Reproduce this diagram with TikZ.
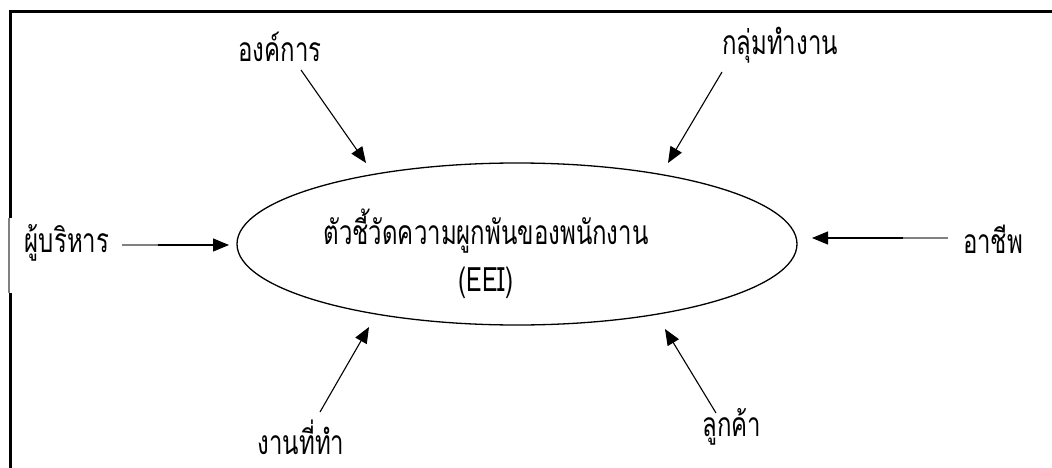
\documentclass[tikz,border=0pt]{standalone}
\usepackage{fontspec}
\usepackage{graphicx}
\newfontfamily\thai[Script=Thai]{Loma}
\usetikzlibrary{arrows.meta}
\newcommand{\tall}[1]{\scalebox{1}[1.4]{#1}}
\begin{document}
\begin{tikzpicture}[x=1pt,y=-1pt,
  lbl/.style={font=\thai\fontsize{24}{28}\selectfont, inner sep=0pt},
  conn/.style={line width=1.1pt, -{Triangle[length=16pt,width=13pt]}},
  greyseg/.style={line width=1.4pt, gray}]
\useasboundingbox (0,0) rectangle (1052,468);
\fill[white] (0,0) rectangle (1052,468);
% frame
\draw[line width=3pt] (10,470) -- (10,12) -- (1054,12);
\draw[white, line width=3.2pt] (10,218) -- (10,293);
\draw[gray, line width=1.6pt] (9,218) -- (9,293);
% central ellipse
\draw[line width=1.3pt] (517,244) ellipse [x radius=280, y radius=81];
\node[lbl] (c) at (486,256) {\tall{\begin{tabular}{@{}c@{}}ตัวชี้วัดความผูกพันของพนักงาน\\[6pt](EEI)\end{tabular}}};
% labels
\node[lbl] (org) at (280,47) {\tall{องค์การ}};
\node[lbl] (grp) at (780,45) {\tall{กลุ่มทำงาน}};
\node[lbl] (mgr) at (67,243) {\tall{ผู้บริหาร}};
\node[lbl] (car) at (993,239) {\tall{อาชีพ}};
\node[lbl] (job) at (301,437) {\tall{งานที่ทำ}};
\node[lbl] (cus) at (732,427) {\tall{ลูกค้า}};
% connector ends
\coordinate (orgS) at (301,70);   \coordinate (orgT) at (366,163);
\coordinate (grpS) at (722,72);   \coordinate (grpT) at (668,163);
\coordinate (mgrS) at (122,245);  \coordinate (mgrT) at (229,245);
\coordinate (carS) at (948,238);  \coordinate (carT) at (812,238);
\coordinate (jobS) at (320,412);  \coordinate (jobT) at (369,327);
\coordinate (cusS) at (716,413);  \coordinate (cusT) at (665,329);
\draw[conn] (orgS) -- (orgT);
\draw[conn] (grpS) -- (grpT);
\draw[conn] (mgrS) -- (mgrT);
\draw[conn] (carS) -- (carT);
\draw[conn] (jobS) -- (jobT);
\draw[conn] (cusS) -- (cusT);
\draw[greyseg] (mgrS) -- (158,245);
\draw[greyseg] (carS) -- (903,238);
\end{tikzpicture}
\end{document}
